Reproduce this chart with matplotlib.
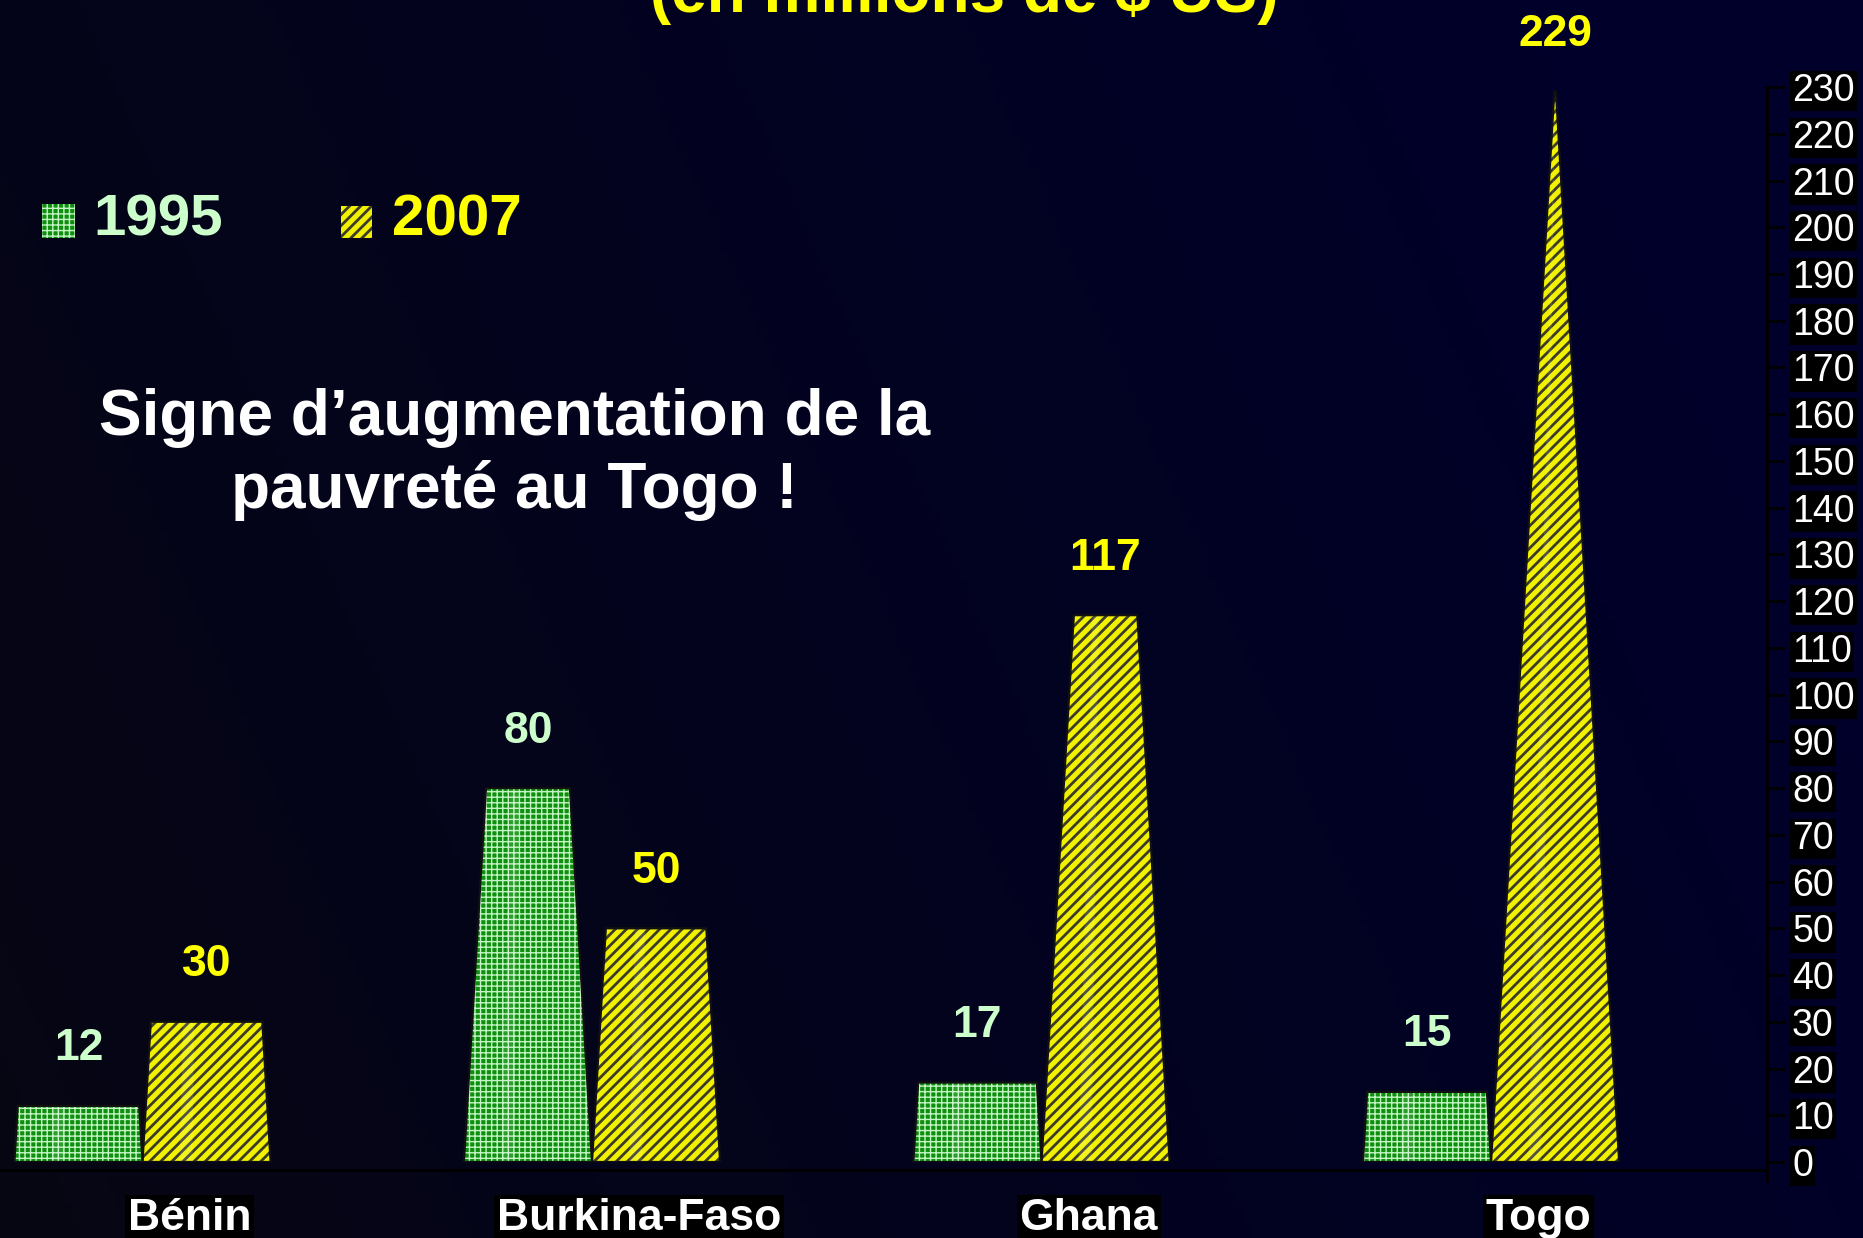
import numpy as np
import matplotlib
matplotlib.use("Agg")
import matplotlib.pyplot as plt
from matplotlib.patches import Polygon, Rectangle

plt.rcParams['font.family'] = ['Liberation Sans', 'DejaVu Sans']

# ---- data ----
categories = ["Bénin", "Burkina-Faso", "Ghana", "Togo"]
series_names = ["1995", "2007"]
values_1995 = [12, 80, 17, 15]
values_2007 = [30, 50, 117, 229]
yticks = list(range(0, 231, 10))
title_text = "(en millions de $ US)"
note_text = "Signe d\u2019augmentation de la\npauvreté au Togo !"

# ---- style ----
W, H = 1863, 1238
fig = plt.figure(figsize=(W / 100, H / 100), dpi=100)

# background gradient
bg = fig.add_axes([0, 0, 1, 1], zorder=-10)
bg.set_axis_off()
gx = np.linspace(0, 1, 256)[None, :]
gy = np.linspace(0, 1, 256)[:, None]
left = np.array([0.025, 0.025, 0.075])
right = np.array([0.0, 0.0, 0.17])
t = np.clip(gx * 0.85 + (1 - gy) * 0.25, 0, 1)
img = left[None, None, :] * (1 - t[..., None]) + right[None, None, :] * t[..., None]
bg.imshow(img, aspect='auto', extent=[0, 1, 0, 1], origin='upper')
bg.set_xlim(0, 1)
bg.set_ylim(0, 1)

ax = fig.add_axes([0.0, 0.0614, 0.9485, 0.8683])
ax.set_facecolor('none')
ax.set_xlim(-0.317, 3.614)
ax.set_ylim(0, 230)

green_face = '#0f8f0f'
green_hatch = '#c4f4c4'
yellow_face = '#f2f200'
yellow_hatch = '#3c3c28'
apex = 232.0
bw = 0.285
x = np.arange(len(categories))


def hatched(cls, *args, hlw=1.0, **kw):
    with plt.rc_context({'hatch.linewidth': hlw}):
        p = cls(*args, **kw)
        if hasattr(p, 'set_hatch_linewidth'):
            p.set_hatch_linewidth(hlw)
    return p


def frustum(xc, v, face, hatch, hcolor, hlw):
    hw = bw / 2
    thw = hw * max(1 - v / apex, 0.004)
    pts = [(xc - hw, 0), (xc + hw, 0), (xc + thw, v), (xc - thw, v)]
    p = hatched(Polygon, pts, closed=True, facecolor=face, hatch=hatch,
                edgecolor=hcolor, linewidth=0, zorder=3, hlw=hlw)
    ax.add_patch(p)
    # highlight stripe
    s0, s1 = -0.42, -0.22
    hp = [(xc + s0 * hw, 0), (xc + s1 * hw, 0), (xc + s1 * thw, v), (xc + s0 * thw, v)]
    ax.add_patch(Polygon(hp, closed=True, facecolor='white', alpha=0.12,
                         linewidth=0, zorder=4))
    ax.add_patch(Polygon(pts, closed=True, fill=False, edgecolor='#111111',
                         linewidth=1.6, zorder=5))


for i in range(len(categories)):
    frustum(x[i] - bw / 2, values_1995[i], green_face, '+++', green_hatch, 1.0)
    frustum(x[i] + bw / 2, values_2007[i], yellow_face, '///', yellow_hatch, 2.0)

for i in range(len(categories)):
    ax.annotate(str(values_1995[i]), (x[i] - bw / 2, values_1995[i]),
                xytext=(0, 41), textcoords='offset points', ha='center', va='center',
                color='#ccffcc', fontsize=32, fontweight='bold', annotation_clip=False)
    ax.annotate(str(values_2007[i]), (x[i] + bw / 2, values_2007[i]),
                xytext=(0, 41), textcoords='offset points', ha='center', va='center',
                color='#ffff00', fontsize=32, fontweight='bold', annotation_clip=False)
    ax.text(x[i] + 0.105, -12.0, categories[i], ha='center', va='center',
            color='white', fontsize=32, fontweight='bold', clip_on=False,
            bbox=dict(facecolor='black', edgecolor='none', pad=2))

# floor line
ax.plot([-0.317, 3.614], [-1.8, -1.8], color='black', lw=2, zorder=2, clip_on=False)

# axes / ticks
for s in ['top', 'left', 'bottom']:
    ax.spines[s].set_visible(False)
ax.spines['right'].set_color('black')
ax.spines['right'].set_linewidth(2)
ax.spines['right'].set_bounds(-4, 230)
ax.set_xticks([])
ax.yaxis.tick_right()
ax.set_yticks(yticks)
ax.set_yticklabels([str(v) for v in yticks])
ax.tick_params(axis='y', direction='out', length=13, width=2, color='black',
               labelcolor='white', labelsize=27, pad=5)
for lab in ax.get_yticklabels():
    lab.set_bbox(dict(facecolor='black', edgecolor='none', pad=1.5))

# legend (manual)
fig.patches.append(hatched(Rectangle, (0.0225, 0.8078), 0.0177, 0.0275, transform=fig.transFigure,
                           facecolor=green_face, hatch='+++', edgecolor=green_hatch,
                           linewidth=0, hlw=1.0))
fig.text(0.0499, 0.8215, series_names[0], color='#ccffcc', fontsize=42,
         fontweight='bold', va='center', ha='left')
fig.patches.append(hatched(Rectangle, (0.183, 0.8078), 0.0166, 0.0262, transform=fig.transFigure,
                           facecolor=yellow_face, hatch='///', edgecolor=yellow_hatch,
                           linewidth=0, hlw=2.0))
fig.text(0.2104, 0.8215, series_names[1], color='#ffff00', fontsize=42,
         fontweight='bold', va='center', ha='left')

# annotation and title
fig.text(0.276, 0.6327, note_text, color='white', fontsize=46, fontweight='bold',
         ha='center', va='center', linespacing=1.25)
fig.text(0.5174, 0.9903, title_text, color='#ffff00', fontsize=46, fontweight='bold',
         ha='center', va='baseline')

fig.savefig('out.png', dpi=100)
